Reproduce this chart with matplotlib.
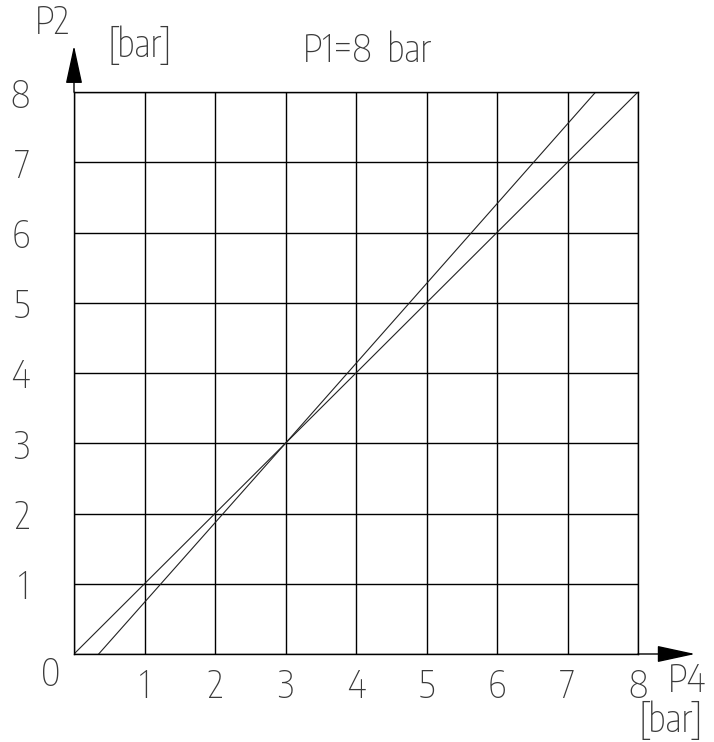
import matplotlib
matplotlib.use('Agg')
import matplotlib.pyplot as plt
from matplotlib import font_manager as fm

# axis range / ticks
ticks = [0, 1, 2, 3, 4, 5, 6, 7, 8]
tick_labels = ['', '1', '2', '3', '4', '5', '6', '7', '8']

# the two characteristic lines (P4 -> P2)
line1_x = [0, 8]
line1_y = [0, 8]
line2_x = [0.35, 3, 7.4]
line2_y = [0, 3, 8]

W, H = 714, 742
fs = 27
tcol = '#3a3a3a'

def pick_font(names, want=200):  # thin condensed font, CAD-like look
    for name in names:
        cands = [f for f in fm.fontManager.ttflist if f.name == name and f.style == 'normal']
        if cands:
            best = min(cands, key=lambda f: abs(int(f.weight) - want) if str(f.weight).isdigit() else 999)
            return fm.FontProperties(fname=best.fname, size=fs)
    return fm.FontProperties(family='DejaVu Sans', size=fs)

fp = pick_font(['Encode Sans Condensed', 'Saira ExtraCondensed', 'Roboto Condensed'])

def px(x, y):  # pixel position -> figure fraction
    return x / W, 1 - y / H

fig = plt.figure(figsize=(W / 100, H / 100), dpi=100)
ax = fig.add_axes([74 / W, (H - 654) / H, 564 / W, 562 / H])
ax.set_xlim(0, 8)
ax.set_ylim(0, 8)
ax.set_xticks(ticks)
ax.set_yticks(ticks)
ax.set_xticklabels(tick_labels, fontproperties=fp, color=tcol)
ax.set_yticklabels(tick_labels, fontproperties=fp, color=tcol)
ax.tick_params(length=0)
ax.tick_params(axis='x', pad=9)
ax.tick_params(axis='y', pad=32)
ax.grid(True, color='black', lw=1)
for s in ax.spines.values():
    s.set_linewidth(1)

ax.plot(line1_x, line1_y, color='#222222', lw=0.8)
ax.plot(line2_x, line2_y, color='#222222', lw=0.8)

# axis arrows
arr = dict(arrowstyle='-|>,head_length=1.2,head_width=0.26', color='black',
           lw=1, mutation_scale=20, shrinkA=0, shrinkB=0)
ax.annotate('', xy=(0, 8.66), xytext=(0, 8), arrowprops=arr, annotation_clip=False)
ax.annotate('', xy=(8.81, 0), xytext=(8, 0), arrowprops=arr, annotation_clip=False)

# labels
kw = dict(fontproperties=fp, color=tcol, ha='center', va='center')
fig.text(*px(51, 674), '0', **kw)
fig.text(*px(52, 22), 'P2', **kw)
fig.text(*px(140, 45), '[bar]', **kw)
fig.text(*px(367, 51), 'P1=8  bar', **kw)
fig.text(*px(687, 680), 'P4', **kw)
fig.text(*px(671, 720), '[bar]', **kw)

fig.savefig('out.png', dpi=100)
